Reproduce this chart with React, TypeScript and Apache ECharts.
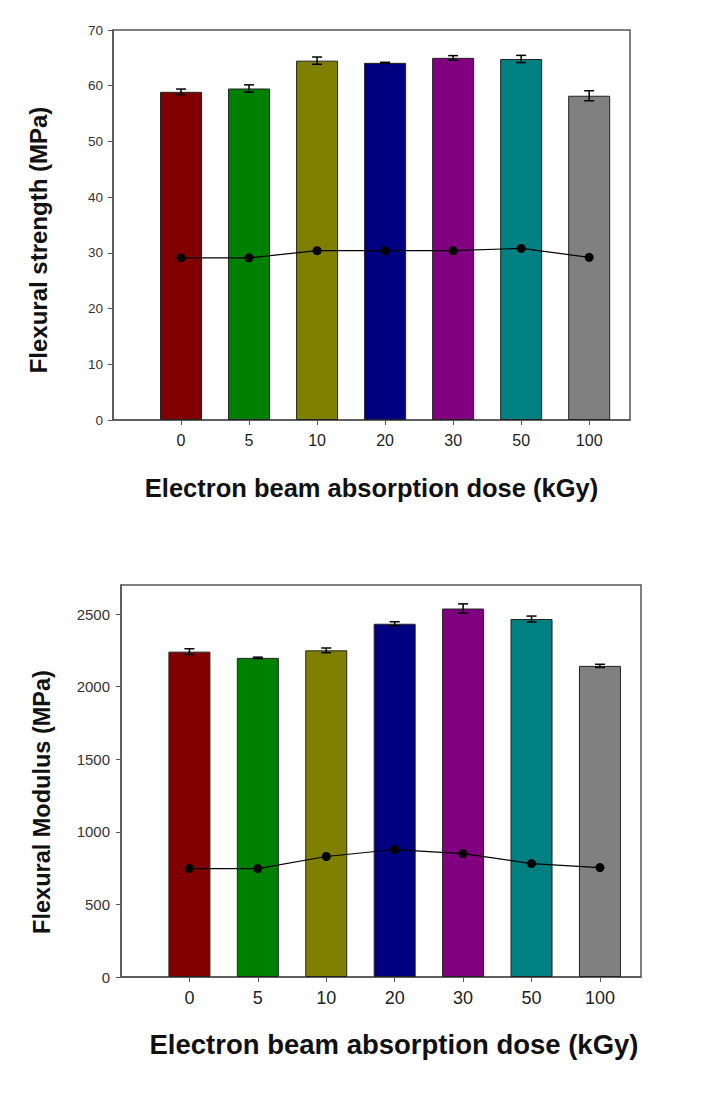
import React, { useEffect, useRef } from "react";
import * as echarts from "echarts";

const doses = ["0", "5", "10", "20", "30", "50", "100"];
const barColors = ["#800000", "#008000", "#808000", "#000080", "#800080", "#008080", "#808080"];

const strengthValues = [58.9, 59.5, 64.5, 64.1, 65.0, 64.8, 58.2];
const strengthErrors = [0.5, 0.65, 0.65, 0.1, 0.4, 0.65, 0.9];
const strengthLine = [29.1, 29.1, 30.4, 30.4, 30.4, 30.8, 29.2];
const strengthTicks = [0, 10, 20, 30, 40, 50, 60, 70];

const modulusValues = [2241, 2198, 2250, 2433, 2538, 2466, 2143];
const modulusErrors = [20, 5, 16, 14, 32, 20, 11];
const modulusLine = [747, 747, 830, 878, 850, 781, 754];
const modulusTicks = [0, 500, 1000, 1500, 2000, 2500];

const catIdx = [0, 1, 2, 3, 4, 5, 6];
const FONT = "Arial, 'Liberation Sans', sans-serif";

function xAxisCfg(gridIndex: number, name: string, nameSize: number, labelSize: number, nameGap: number, pad: number[]) {
  return {
    type: "value",
    gridIndex,
    min: -1,
    max: 6.6,
    name,
    nameLocation: "middle",
    nameGap,
    nameTextStyle: { fontFamily: FONT, fontWeight: "bold", fontSize: nameSize, color: "#111", padding: pad },
    axisLine: { show: true, onZero: false, lineStyle: { color: "#555", width: 1.5 } },
    axisTick: { show: true, inside: false, length: 5, customValues: catIdx, lineStyle: { color: "#555" } },
    axisLabel: {
      customValues: catIdx,
      margin: 12,
      fontFamily: FONT,
      fontSize: labelSize,
      color: "#222",
      formatter: (v: number) => doses[Math.round(v)],
    },
    splitLine: { show: false },
  };
}

function yAxisCfg(gridIndex: number, name: string, max: number, interval: number, ticks: number[], nameGap: number, margin: number, nameSize: number, labelSize: number, pad: number[]) {
  return {
    type: "value",
    gridIndex,
    min: 0,
    max,
    interval,
    name,
    nameLocation: "middle",
    nameGap,
    nameTextStyle: { fontFamily: FONT, fontWeight: "bold", fontSize: nameSize, color: "#111", padding: pad },
    axisLine: { show: true, onZero: false, lineStyle: { color: "#555", width: 1.5 } },
    axisTick: { show: true, inside: false, length: 5, customValues: ticks, lineStyle: { color: "#555" } },
    axisLabel: {
      customValues: ticks,
      margin,
      fontFamily: FONT,
      fontSize: labelSize,
      color: "#333",
      formatter: (v: number) => String(v),
    },
    splitLine: { show: false },
  };
}

function barSeries(idx: number, values: number[]) {
  return {
    type: "bar",
    xAxisIndex: idx,
    yAxisIndex: idx,
    barWidth: 42,
    data: values.map((v, i) => ({
      value: [i, v],
      itemStyle: { color: barColors[i], borderColor: "#222", borderWidth: 1 },
    })),
    z: 2,
  };
}

function errorSeries(idx: number, values: number[], errs: number[]) {
  return {
    type: "custom",
    xAxisIndex: idx,
    yAxisIndex: idx,
    data: values.map((v, i) => [i, v - errs[i], v + errs[i]]),
    renderItem: (params: any, api: any) => {
      const x = api.value(0);
      const lo = api.coord([x, api.value(1)]);
      const hi = api.coord([x, api.value(2)]);
      const hw = 5;
      const style = { stroke: "#000", lineWidth: 1.5 };
      return {
        type: "group",
        children: [
          { type: "line", shape: { x1: lo[0], y1: lo[1], x2: hi[0], y2: hi[1] }, style },
          { type: "line", shape: { x1: lo[0] - hw, y1: lo[1], x2: lo[0] + hw, y2: lo[1] }, style },
          { type: "line", shape: { x1: hi[0] - hw, y1: hi[1], x2: hi[0] + hw, y2: hi[1] }, style },
        ],
      };
    },
    z: 3,
  };
}

function lineSeries(idx: number, values: number[]) {
  return {
    type: "line",
    xAxisIndex: idx,
    yAxisIndex: idx,
    data: values.map((v, i) => [i, v]),
    symbol: "circle",
    symbolSize: 9,
    lineStyle: { color: "#000", width: 1.2 },
    itemStyle: { color: "#000" },
    z: 4,
  };
}

export default function App() {
  const ref = useRef<HTMLDivElement>(null);
  useEffect(() => {
    if (!ref.current) return;
    const chart = echarts.init(ref.current, null, { renderer: "svg" });
    chart.setOption({
      animation: false,
      backgroundColor: "#fff",
      grid: [
        { left: 113, top: 30, width: 517, height: 390, show: true, borderColor: "#555", borderWidth: 1.5, backgroundColor: "transparent" },
        { left: 121, top: 585, width: 520, height: 392, show: true, borderColor: "#555", borderWidth: 1.5, backgroundColor: "transparent" },
      ],
      xAxis: [
        xAxisCfg(0, "Electron beam absorption dose (kGy)", 25.5, 16, 55, [0, 0, 0, 0]),
        xAxisCfg(1, "Electron beam absorption dose (kGy)", 27.5, 18, 53, [0, 0, 0, 26]),
      ],
      yAxis: [
        yAxisCfg(0, "Flexural strength (MPa)", 70, 10, strengthTicks, 63, 10, 24, 13.5, [0, 30, 0, 0]),
        yAxisCfg(1, "Flexural Modulus (MPa)", 2700, 500, modulusTicks, 67, 11, 23.5, 15, [0, 42, 0, 0]),
      ],
      series: [
        barSeries(0, strengthValues),
        errorSeries(0, strengthValues, strengthErrors),
        lineSeries(0, strengthLine),
        barSeries(1, modulusValues),
        errorSeries(1, modulusValues, modulusErrors),
        lineSeries(1, modulusLine),
      ],
    });
    return () => chart.dispose();
  }, []);
  return <div ref={ref} style={{ position: "fixed", left: 0, top: 0, width: 720, height: 1103 }} />;
}
